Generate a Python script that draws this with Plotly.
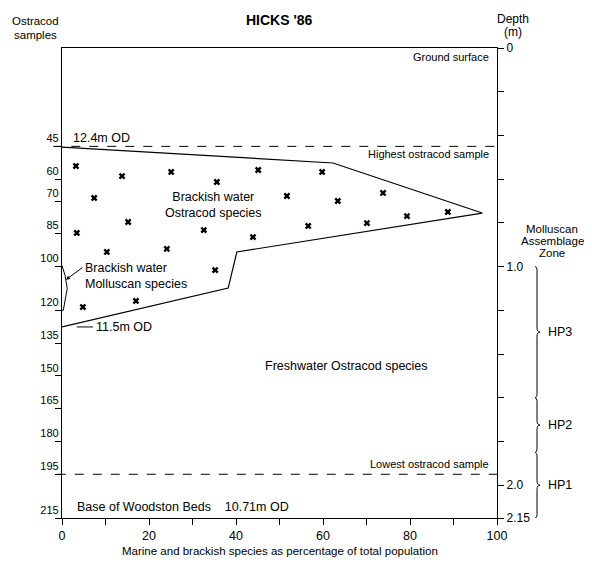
import plotly.graph_objects as go

# ---------------- data ----------------
# Brackish-water ostracod envelope (percentage, depth m)
envelope_pct = [0, 62.3, 96.6, 40.2, 38.2, 0]
envelope_depth = [0.453, 0.526, 0.755, 0.933, 1.098, 1.276]

# Brackish molluscan sliver near the axis
mollusc_pct = [0, 0.7, 1.2, 0.8, 0.3, 0]
mollusc_depth = [0.995, 1.04, 1.10, 1.15, 1.20, 1.20]

# Ostracod sample crosses
cross_pct = [3.2, 13.8, 25.1, 35.6, 45.1, 59.8, 51.7, 63.4, 73.8, 79.3, 88.7,
             70.1, 56.6, 43.9, 32.6, 35.2, 7.4, 15.2, 3.4, 10.3, 24.1, 4.8, 17.0]
cross_depth = [0.540, 0.586, 0.567, 0.613, 0.558, 0.567, 0.677, 0.700, 0.663,
               0.769, 0.750, 0.801, 0.814, 0.865, 0.833, 1.016, 0.686, 0.796,
               0.846, 0.933, 0.919, 1.185, 1.157]

# Left axis: ostracod sample depths (cm)
sample_cm = [45, 60, 70, 85, 100, 120, 135, 150, 165, 180, 195, 215]
sample_labels = [str(v) for v in sample_cm]

# Right axis: depth (m)
depth_ticks = [0, 0.2, 0.4, 0.6, 0.8, 1.0, 1.2, 1.4, 1.6, 1.8, 2.0, 2.15]
depth_labels = ["0", "", "", "", "", "1.0", "", "", "", "", "2.0", "2.15"]

# Bottom axis
pct_ticks = [0, 10, 20, 30, 40, 50, 60, 70, 80, 90, 100]
pct_labels = ["0", "", "20", "", "40", "", "60", "", "80", "", "100"]

# Marker levels (depth m)
highest_sample = 0.45
lowest_sample = 1.95
od_115_depth = 1.276

# Molluscan assemblage zones: (name, top, bottom)
zone_names = ["HP3", "HP2", "HP1"]
zone_top = [1.0, 1.6, 1.85]
zone_bottom = [1.6, 1.85, 2.15]

FONT = "Liberation Sans, Arial, sans-serif"

fig = go.Figure()

fig.add_trace(go.Scatter(
    x=envelope_pct, y=envelope_depth, mode="lines", fill="toself",
    fillcolor="white", line=dict(color="black", width=1.2),
    hoverinfo="skip", showlegend=False))

fig.add_trace(go.Scatter(
    x=mollusc_pct, y=mollusc_depth, mode="lines", fill="toself",
    fillcolor="white", line=dict(color="black", width=1),
    hoverinfo="skip", showlegend=False, cliponaxis=False))

fig.add_trace(go.Scatter(
    x=cross_pct, y=cross_depth, mode="markers",
    marker=dict(symbol="x", size=6, color="black"),
    hoverinfo="skip", showlegend=False))

# dummy trace to activate the right axis
fig.add_trace(go.Scatter(
    x=[0], y=[0], yaxis="y2", mode="markers", opacity=0,
    hoverinfo="skip", showlegend=False))

shapes = [
    dict(type="line", xref="paper", yref="y", x0=-0.02, x1=1,
         y0=highest_sample, y1=highest_sample,
         line=dict(color="black", width=1, dash="dash")),
    dict(type="line", xref="paper", yref="y", x0=-0.012, x1=1,
         y0=lowest_sample, y1=lowest_sample,
         line=dict(color="black", width=1, dash="dash")),
    dict(type="line", xref="x", yref="y", x0=3.4, x1=7.1,
         y0=od_115_depth, y1=od_115_depth,
         line=dict(color="black", width=1)),
]

# curly braces for zones
bx = 1.092      # paper x of brace spine
px1 = 0.0023    # ~1 px in paper units
ry = 0.02       # curl height in depth units
for top, bot in zip(zone_top, zone_bottom):
    mid = (top + bot) / 2
    path = (f"M {bx - 2*px1},{top} Q {bx},{top} {bx},{top + ry} "
            f"L {bx},{mid - ry} Q {bx},{mid} {bx + 3*px1},{mid} "
            f"Q {bx},{mid} {bx},{mid + ry} "
            f"L {bx},{bot - ry} Q {bx},{bot} {bx - 2*px1},{bot}")
    shapes.append(dict(type="path", xref="paper", yref="y", path=path,
                       line=dict(color="black", width=1)))

ann = []


def text(x, y, s, size=12, xref="x", yref="y", xanchor="center",
         align="center"):
    ann.append(dict(x=x, y=y, xref=xref, yref=yref, text=s, showarrow=False,
                    xanchor=xanchor, yanchor="middle", align=align,
                    borderpad=0,
                    font=dict(family=FONT, size=size, color="black")))


def ypx(py):
    """paper y for a pixel row measured from the top of the plot frame."""
    return 1 - (py - 48) / 470


text(0.5, ypx(20), "<b>HICKS '86</b>", size=14, xref="paper", yref="paper")
text(-0.06, ypx(21), "Ostracod", size=11.5, xref="paper", yref="paper")
text(-0.06, ypx(35), "samples", size=11.5, xref="paper", yref="paper")
text(1.037, ypx(19), "Depth", size=12, xref="paper", yref="paper")
text(1.037, ypx(32), "(m)", size=12, xref="paper", yref="paper")
text(98.4, 0.041, "Ground surface", size=11, xanchor="right")
text(2.3, 0.41, "12.4m OD", size=12.5, xanchor="left")
text(98.4, 0.485, "Highest ostracod sample", size=11, xanchor="right")
text(34.9, 0.718, "Brackish water<br>Ostracod species", size=12.5)
text(5.0, 1.043, "Brackish water<br>Molluscan species", size=12.5,
     xanchor="left", align="left")
text(7.6, od_115_depth, "11.5m OD", size=12.5, xanchor="left")
text(65.5, 1.455, "Freshwater Ostracod species", size=12.5)
text(98.4, 1.903, "Lowest ostracod sample", size=11, xanchor="right")
text(3.2, 2.10, "Base of Woodston Beds&nbsp;&nbsp;&nbsp;&nbsp;10.71m OD",
     size=12.5, xanchor="left")
text(0.5, ypx(551),
     "Marine and brackish species as percentage of total population",
     size=11.5, xref="paper", yref="paper")
text(1.127, ypx(229), "Molluscan", size=11.5, xref="paper", yref="paper")
text(1.127, ypx(241), "Assemblage", size=11.5, xref="paper", yref="paper")
text(1.127, ypx(253), "Zone", size=11.5, xref="paper", yref="paper")
for name, top, bot in zip(zone_names, zone_top, zone_bottom):
    text(1.115, (top + bot) / 2, name, size=12.5, xref="paper", xanchor="left")

# arrow to molluscan sliver
ann.append(dict(x=0.9, y=1.06, xref="x", yref="y", ax=5.0, ay=1.0,
                axref="x", ayref="y", text="", showarrow=True,
                arrowhead=2, arrowsize=0.8, arrowwidth=1, arrowcolor="black"))

fig.update_layout(
    width=584, height=554,
    margin=dict(l=54, r=95, t=40, b=44),
    paper_bgcolor="white", plot_bgcolor="white",
    font=dict(family=FONT, size=12, color="black"),
    showlegend=False,
    shapes=shapes, annotations=ann,
    xaxis=dict(range=[0, 100], tickvals=pct_ticks, ticktext=pct_labels,
               ticks="outside", ticklen=6, tickcolor="black",
               showline=True, linecolor="black", linewidth=1.2, mirror=True,
               showgrid=False, zeroline=False,
               tickfont=dict(family=FONT, size=12.5)),
    yaxis=dict(range=[2.15, 0], tickvals=[v / 100 for v in sample_cm],
               ticktext=sample_labels, ticks="outside", ticklen=6,
               tickcolor="black", ticklabelposition="outside top",
               showline=True, linecolor="black", linewidth=1.2,
               showgrid=False, zeroline=False,
               tickfont=dict(family=FONT, size=11)),
    yaxis2=dict(range=[2.15, 0], overlaying="y", side="right", anchor="x",
                tickvals=depth_ticks, ticktext=depth_labels,
                ticks="outside", ticklen=6, tickcolor="black",
                showline=True, linecolor="black", linewidth=1.2,
                showgrid=False, zeroline=False,
                tickfont=dict(family=FONT, size=12)),
)

fig.write_html("out.html")
